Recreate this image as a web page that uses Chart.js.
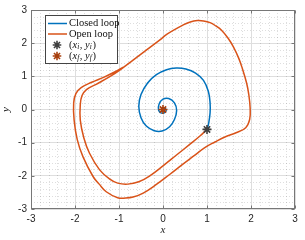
<!DOCTYPE html>
<html>
<head>
<meta charset="utf-8">
<script src="https://cdn.jsdelivr.net/npm/chart.js@4.4.1/dist/chart.umd.min.js"></script>
<style>
  html, body { margin: 0; padding: 0; background: #fff; }
  #wrap { width: 305px; height: 240px; }
</style>
</head>
<body>
<div id="wrap"><canvas id="myChart" width="305" height="240"></canvas></div>
<script>
// closed loop trajectory (spirals into the origin)
const closedX = [1.00, 1.04, 1.07, 1.07, 1.03, 0.92, 0.74, 0.52, 0.30, 0.08, -0.15, -0.35, -0.50, -0.55, -0.50, -0.38, -0.20, -0.02, 0.15, 0.26, 0.31, 0.26, 0.13, 0.00, -0.09, -0.10, -0.03, 0.05, 0.07, 0.02, 0.00]
const closedY = [-0.60, -0.40, -0.10, 0.20, 0.55, 0.88, 1.10, 1.22, 1.25, 1.20, 1.05, 0.80, 0.45, 0.10, -0.25, -0.50, -0.64, -0.65, -0.52, -0.30, -0.03, 0.20, 0.33, 0.31, 0.16, -0.02, -0.11, -0.08, 0.00, 0.04, 0.00]

// open loop trajectory (goes round twice)
const openX = [1.00, 0.84, 0.60, 0.30, 0.00, -0.30, -0.55, -0.80, -1.03, -1.21, -1.44, -1.67, -1.80, -1.88, -1.88, -1.84, -1.74, -1.52, -1.21, -0.95, -0.68, -0.38, -0.07, 0.10, 0.46, 0.62, 0.78, 0.92, 1.07, 1.20, 1.33, 1.48, 1.60, 1.72, 1.80, 1.90, 1.95, 1.98, 1.97, 1.88, 1.66, 1.42, 1.18, 0.95, 0.70, 0.46, 0.15, -0.15, -0.45, -0.68, -0.85, -1.03, -1.29, -1.45, -1.59, -1.82, -1.95, -2.02, -2.03, -1.98, -1.86, -1.62, -1.35, -1.10, -0.90]
const openY = [-0.60, -0.80, -1.06, -1.38, -1.70, -2.00, -2.18, -2.25, -2.22, -2.10, -1.82, -1.32, -0.85, -0.32, 0.15, 0.42, 0.60, 0.76, 0.99, 1.22, 1.49, 1.79, 2.10, 2.28, 2.55, 2.64, 2.68, 2.67, 2.62, 2.52, 2.39, 2.15, 1.89, 1.55, 1.25, 0.80, 0.45, 0.05, -0.30, -0.55, -0.70, -0.82, -0.98, -1.15, -1.40, -1.64, -1.96, -2.26, -2.52, -2.64, -2.67, -2.66, -2.48, -2.25, -2.02, -1.42, -0.90, -0.32, 0.20, 0.48, 0.66, 0.82, 0.97, 1.13, 1.28]

const startPoint = [1, -0.6]
const endPoint = [0, 0]

const xTickLabels = ['-3', '-2', '-1', '0', '1', '2', '3']
const yTickLabels = ['-3', '-2', '-1', '0', '1', '2', '3']
const legendLabels = ['Closed loop', 'Open loop']

const blue = '#0072BD'
const orange = '#D95319'
const startColor = '#404040'
const endColor = '#A8400E'
const axisColor = '#777777'

function toPoints(xs, ys) {
    return xs.map((x, i) => ({ x: x, y: ys[i] }))
}

function drawStar(ctx, x, y, r, color) {
    ctx.save()
    ctx.strokeStyle = color
    ctx.lineWidth = 1.6
    ctx.beginPath()
    for (let k = 0; k < 4; k++) {
        let a = k * Math.PI / 4
        ctx.moveTo(x - Math.cos(a) * r, y - Math.sin(a) * r)
        ctx.lineTo(x + Math.cos(a) * r, y + Math.sin(a) * r)
    }
    ctx.stroke()
    ctx.restore()
}

// minor dotted grid, matlab style
const minorGrid = {
    id: 'minorGrid',
    beforeDatasetsDraw(chart) {
        const { ctx, chartArea, scales } = chart
        ctx.save()
        ctx.strokeStyle = 'rgba(0,0,0,0.13)'
        ctx.lineWidth = 1
        ctx.setLineDash([1, 2])
        for (let k = -15; k <= 15; k++) {
            if (k % 5 === 0) continue
            let px = Math.round(scales.x.getPixelForValue(k / 5)) + 0.5
            let py = Math.round(scales.y.getPixelForValue(k / 5)) + 0.5
            ctx.beginPath()
            ctx.moveTo(px, chartArea.top)
            ctx.lineTo(px, chartArea.bottom)
            ctx.moveTo(chartArea.left, py)
            ctx.lineTo(chartArea.right, py)
            ctx.stroke()
        }
        ctx.restore()
    }
}

// box with inward ticks on all four sides
const axesBox = {
    id: 'axesBox',
    afterDatasetsDraw(chart) {
        const { ctx, chartArea, scales } = chart
        const l = chartArea.left + 0.5, r = chartArea.right - 0.5
        const t = chartArea.top + 0.5, b = chartArea.bottom - 0.5
        ctx.save()
        ctx.strokeStyle = axisColor
        ctx.lineWidth = 1
        ctx.strokeRect(l, t, r - l, b - t)
        ctx.beginPath()
        xTickLabels.forEach(lab => {
            let px = Math.round(scales.x.getPixelForValue(+lab)) + 0.5
            ctx.moveTo(px, b); ctx.lineTo(px, b - 3)
            ctx.moveTo(px, t); ctx.lineTo(px, t + 3)
        })
        yTickLabels.forEach(lab => {
            let py = Math.round(scales.y.getPixelForValue(+lab)) + 0.5
            ctx.moveTo(l, py); ctx.lineTo(l + 3, py)
            ctx.moveTo(r, py); ctx.lineTo(r - 3, py)
        })
        ctx.stroke()
        ctx.restore()
    }
}

// legend inside the axes, top left
const boxLegend = {
    id: 'boxLegend',
    afterDraw(chart) {
        const ctx = chart.ctx
        const bx = 45.5, by = 15.5, bw = 72, bh = 48
        const rows = [23.5, 34, 45, 56]
        const textX = 69
        const serif = '"Liberation Serif", "DejaVu Serif", serif'
        ctx.save()
        ctx.fillStyle = '#fff'
        ctx.fillRect(bx, by, bw, bh)
        ctx.strokeStyle = '#444'
        ctx.lineWidth = 1
        ctx.strokeRect(bx, by, bw, bh)

        ctx.lineWidth = 1.5
        ctx.strokeStyle = blue
        ctx.beginPath(); ctx.moveTo(48, rows[0]); ctx.lineTo(67, rows[0]); ctx.stroke()
        ctx.strokeStyle = orange
        ctx.beginPath(); ctx.moveTo(48, rows[1]); ctx.lineTo(67, rows[1]); ctx.stroke()
        drawStar(ctx, 57, rows[2], 4.3, startColor)
        drawStar(ctx, 57, rows[3], 4.3, endColor)

        ctx.fillStyle = '#111'
        ctx.textBaseline = 'middle'
        ctx.font = '10.5px ' + serif
        ctx.fillText(legendLabels[0], textX, rows[0])
        ctx.fillText(legendLabels[1], textX, rows[1])

        // (x_i, y_i) and (x_f, y_f) with subscripts
        const pieces = sub => [
            ['(', '10.5px ' + serif, 0],
            ['x', 'italic 10.5px ' + serif, 0],
            [sub, 'italic 7.5px ' + serif, 2.5],
            [', ', '10.5px ' + serif, 0],
            ['y', 'italic 10.5px ' + serif, 0],
            [sub, 'italic 7.5px ' + serif, 2.5],
            [')', '10.5px ' + serif, 0]
        ]
        ;[['i', rows[2]], ['f', rows[3]]].forEach(([sub, yy]) => {
            let xx = textX
            pieces(sub).forEach(([txt, font, dy]) => {
                ctx.font = font
                ctx.fillText(txt, xx, yy + dy)
                xx += ctx.measureText(txt).width + (dy ? 0.6 : 0)
            })
        })
        ctx.restore()
    }
}

const tickFont = { family: '"Liberation Sans", Arial, sans-serif', size: 10 }
const titleFont = { family: '"Liberation Serif", "DejaVu Serif", serif', size: 11, style: 'italic' }

new Chart(document.getElementById('myChart').getContext('2d'), {
    type: 'scatter',
    data: {
        datasets: [{
            label: 'start',
            data: [{ x: startPoint[0], y: startPoint[1] }],
            pointStyle: 'star',
            pointRadius: 4.5,
            borderColor: startColor,
            pointBorderWidth: 1.6,
            order: 0
        },
        {
            label: 'end',
            data: [{ x: endPoint[0], y: endPoint[1] }],
            pointStyle: 'star',
            pointRadius: 4.5,
            borderColor: endColor,
            pointBorderWidth: 1.6,
            order: 0
        },
        {
            label: legendLabels[0],
            data: toPoints(closedX, closedY),
            showLine: true,
            borderColor: blue,
            borderWidth: 1.5,
            pointRadius: 0,
            tension: 0.4,
            order: 1
        },
        {
            label: legendLabels[1],
            data: toPoints(openX, openY),
            showLine: true,
            borderColor: orange,
            borderWidth: 1.5,
            pointRadius: 0,
            tension: 0.4,
            order: 2
        }]
    },
    options: {
        responsive: false,
        animation: false,
        devicePixelRatio: 1,
        layout: { padding: { top: 10, right: 10, left: 0, bottom: 0 } },
        plugins: {
            legend: { display: false },
            tooltip: { enabled: false }
        },
        scales: {
            x: {
                type: 'linear',
                min: -3,
                max: 3,
                afterFit: scale => { scale.height = 31 },
                afterBuildTicks: scale => { scale.ticks = xTickLabels.map(v => ({ value: +v })) },
                ticks: {
                    callback: v => xTickLabels[xTickLabels.indexOf(String(v))] || '',
                    font: tickFont,
                    color: '#262626',
                    padding: 4,
                    maxRotation: 0,
                    autoSkip: false
                },
                grid: { color: '#dedede', drawTicks: false },
                border: { display: false },
                title: { display: true, text: 'x', font: titleFont, color: '#262626', padding: { top: 0, bottom: 3 } }
            },
            y: {
                type: 'linear',
                min: -3,
                max: 3,
                afterFit: scale => { scale.width = 31 },
                afterBuildTicks: scale => { scale.ticks = yTickLabels.map(v => ({ value: +v })) },
                ticks: {
                    callback: v => yTickLabels[yTickLabels.indexOf(String(v))] || '',
                    font: tickFont,
                    color: '#262626',
                    padding: 4,
                    autoSkip: false
                },
                grid: { color: '#dedede', drawTicks: false },
                border: { display: false },
                title: { display: true, text: 'y', font: titleFont, color: '#262626', padding: { top: 0, bottom: 0 } }
            }
        }
    },
    plugins: [minorGrid, axesBox, boxLegend]
})
</script>
</body>
</html>
